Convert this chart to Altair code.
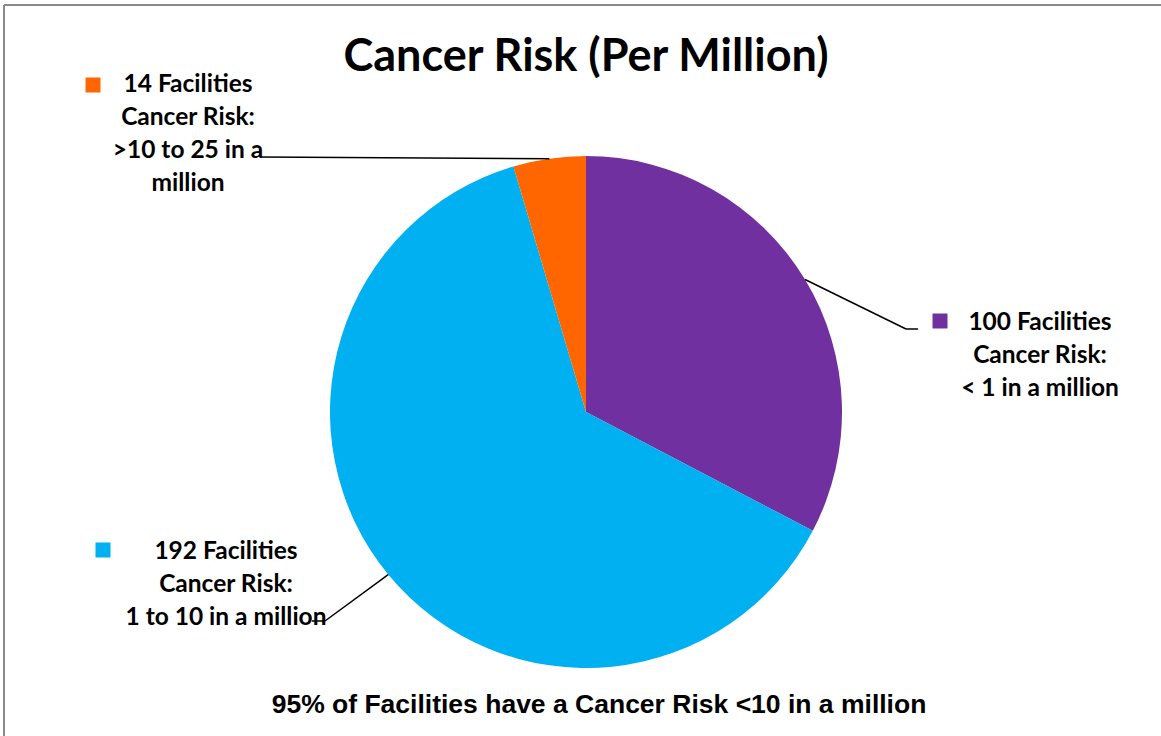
import altair as alt
import pandas as pd
import numpy as np

# ---- data ----
categories = ["< 1 in a million", "1 to 10 in a million", ">10 to 25 in a million"]
facilities = [100, 192, 14]
colors = ["#7030A0", "#00B0F0", "#FF6600"]
label_texts = [
    "100 Facilities\nCancer Risk:\n< 1 in a million",
    "192 Facilities\nCancer Risk:\n1 to 10 in a million",
    "14 Facilities\nCancer Risk:\n>10 to 25 in a\nmillion",
]
title_text = "Cancer Risk (Per Million)"
note_text = "95% of Facilities have a Cancer Risk <10 in a million"

# ---- layout (pixels) ----
W, H = 1161, 736
CX, CY, R = 586, 412, 256
label_x = [1040, 226, 188]
label_y = [330, 559, 92]          # baseline of first line
square_x = [940, 103, 93]
square_y = [321, 550, 85]
elbow = [(906, 329), (325, 621), (260, 157)]
leader_end = [(918, 329), (312, 621), (260, 157)]

FONT = "Lato"

df = pd.DataFrame({
    "category": categories,
    "facilities": facilities,
    "idx": list(range(len(categories))),
    "label": label_texts,
    "lx": label_x, "ly": label_y,
    "sx": square_x, "sy": square_y,
})

# leader line start points from slice mid angles
vals = np.array(facilities, dtype=float)
cum = np.cumsum(vals)
mid = (cum - vals / 2) / vals.sum() * 2 * np.pi
sx0 = CX + R * np.sin(mid)
sy0 = CY - R * np.cos(mid)
seg_rows = []
for i in range(len(categories)):
    seg_rows.append({"x": sx0[i], "y": sy0[i], "x2": elbow[i][0], "y2": elbow[i][1]})
    seg_rows.append({"x": elbow[i][0], "y": elbow[i][1], "x2": leader_end[i][0], "y2": leader_end[i][1]})
seg_df = pd.DataFrame(seg_rows)

color_scale = alt.Scale(domain=categories, range=colors)

pie = alt.Chart(df).mark_arc(outerRadius=R).encode(
    theta=alt.Theta("facilities:Q", stack=True),
    color=alt.Color("category:N", scale=color_scale, legend=None),
    order=alt.Order("idx:Q"),
    x=alt.value(CX),
    y=alt.value(CY),
)

leaders = alt.Chart(seg_df).mark_rule(color="black", strokeWidth=1.5).encode(
    x=alt.X("x:Q", scale=None, axis=None),
    y=alt.Y("y:Q", scale=None, axis=None),
    x2="x2:Q",
    y2="y2:Q",
)

labels = alt.Chart(df).mark_text(
    font=FONT, fontWeight="bold", fontSize=24.5, lineBreak="\n", lineHeight=33,
    align="center", baseline="alphabetic", color="black",
).encode(
    x=alt.X("lx:Q", scale=None, axis=None),
    y=alt.Y("ly:Q", scale=None, axis=None),
    text="label:N",
)

squares = alt.Chart(df).mark_square(size=225, opacity=1, filled=True).encode(
    x=alt.X("sx:Q", scale=None, axis=None),
    y=alt.Y("sy:Q", scale=None, axis=None),
    color=alt.Color("category:N", scale=color_scale, legend=None),
)

title = alt.Chart(pd.DataFrame({"t": [title_text]})).mark_text(
    font=FONT, fontWeight="bold", fontSize=45, align="center", baseline="alphabetic", color="black",
).encode(x=alt.value(586), y=alt.value(71), text="t:N")

note = alt.Chart(pd.DataFrame({"t": [note_text]})).mark_text(
    font="Liberation Sans", fontWeight="bold", fontSize=26.5, align="center", baseline="alphabetic", color="black",
).encode(x=alt.value(599), y=alt.value(713), text="t:N")

border_df = pd.DataFrame({"x": [4, 4], "y": [5, 5], "x2": [W, 4], "y2": [5, H]})
border = alt.Chart(border_df).mark_rule(color="#8a8a8a", strokeWidth=2).encode(
    x=alt.X("x:Q", scale=None, axis=None),
    y=alt.Y("y:Q", scale=None, axis=None),
    x2="x2:Q",
    y2="y2:Q",
)

chart = alt.layer(border, pie, leaders, squares, labels, title, note).properties(
    width=W, height=H, padding=0, autosize=alt.AutoSizeParams(type="none"),
    background="white",
).configure_view(stroke=None)

chart.save("out.html", embed_options={"renderer": "svg", "actions": False})
